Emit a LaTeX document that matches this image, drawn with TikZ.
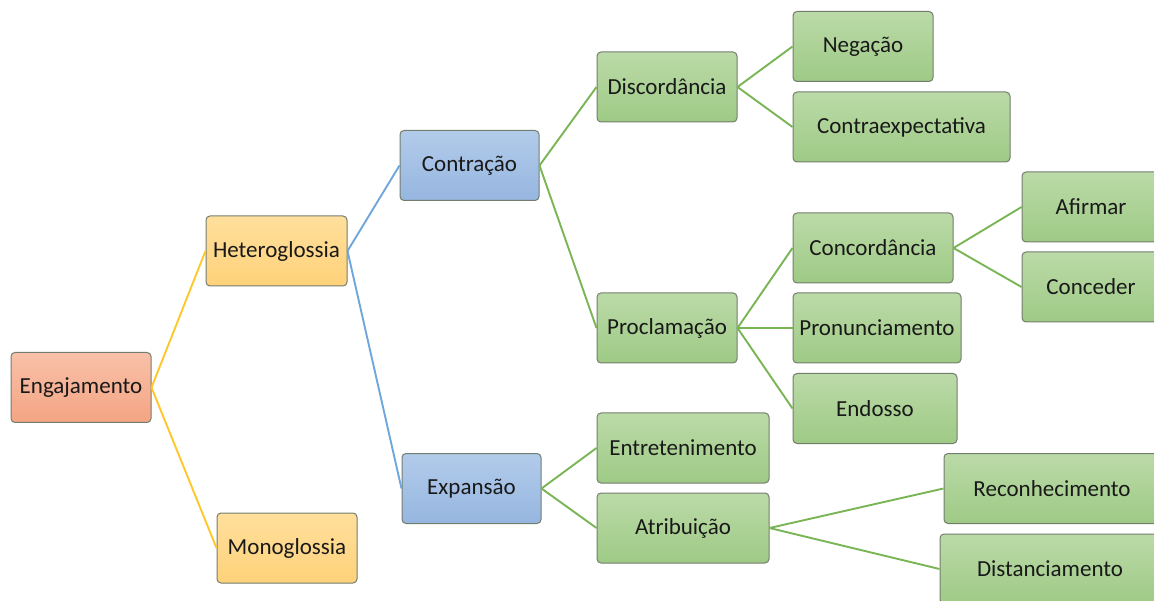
\documentclass[tikz,border=0pt]{standalone}
\usepackage{fontspec}
\setmainfont{Carlito}
\usetikzlibrary{positioning}

\definecolor{orangetop}{HTML}{F8C1A9}
\definecolor{orangebot}{HTML}{F4A483}
\definecolor{yellowtop}{HTML}{FFDF9C}
\definecolor{yellowbot}{HTML}{FFD27A}
\definecolor{bluetop}{HTML}{B2CBEA}
\definecolor{bluebot}{HTML}{96B6E0}
\definecolor{greentop}{HTML}{BBDAA8}
\definecolor{greenbot}{HTML}{9ECA85}
\definecolor{boxline}{HTML}{737D6E}
\definecolor{lineyellow}{HTML}{FFC72C}
\definecolor{lineblue}{HTML}{6FA6DB}
\definecolor{linegreen}{HTML}{7AB555}

\tikzset{
  box/.style={rectangle, rounded corners=4pt, draw=boxline, line width=1pt,
    minimum width=140pt, minimum height=70pt, inner sep=2pt,
    font=\fontsize{23}{27}\selectfont, text=black!90},
  rootbox/.style={box, top color=orangetop, bottom color=orangebot},
  glossbox/.style={box, top color=yellowtop, bottom color=yellowbot},
  movebox/.style={box, top color=bluetop, bottom color=bluebot},
  leafbox/.style={box, top color=greentop, bottom color=greenbot},
  link/.style={line width=1.9pt}
}

\begin{document}
\begin{tikzpicture}[x=1pt,y=-1pt,node distance=2cm,on grid]
        \useasboundingbox (0,0) rectangle (1154,601);
        \node[rootbox] (eng) at (81,387.5) {Engajamento};
        \node[glossbox, minimum width=141pt] (hetero) [above right=136.5pt and 195.5pt of eng] {Heteroglossia};
        \node[glossbox] (mono) [below right=160.5pt and 206pt of eng] {Monoglossia};
        \node[movebox, minimum width=139pt] (contr) [above right=85.5pt and 193pt of hetero] {Contração};
        \node[movebox, minimum width=139pt] (expan) [below right=237.5pt and 195pt of hetero] {Expansão};
        \node[leafbox] (disc) [above right=78.5pt and 197.5pt of contr] {Discordância};
        \node[leafbox] (procl) [below right=162.5pt and 197.5pt of contr] {Proclamação};
        \node[leafbox, minimum width=172pt] (entre) [above right=40.5pt and 211.5pt of expan] {Entretenimento};
        \node[leafbox, minimum width=172pt] (atrib) [below right=39.5pt and 211.5pt of expan] {Atribuição};
        \node[leafbox] (neg) [above right=40.5pt and 196pt of disc] {Negação};
        \node[leafbox, minimum width=217pt] (cexp) [below right=40pt and 234.5pt of disc] {Contraexpectativa};
        \node[leafbox, minimum width=160pt] (conc) [above right=80pt and 206pt of procl] {Concordância};
        \node[leafbox, minimum width=168pt] (pron) [right=210pt of procl] {Pronunciamento};
        \node[leafbox, minimum width=164pt] (endo) [below right=80.5pt and 208pt of procl] {Endosso};
        \node[leafbox, minimum width=138pt] (afir) [above right=41pt and 218pt of conc] {Afirmar};
        \node[leafbox, minimum width=138pt] (conced) [below right=39pt and 218pt of conc] {Conceder};
        \node[leafbox, minimum width=216pt] (recon) [above right=39.5pt and 369pt of atrib] {Reconhecimento};
        \node[leafbox, minimum width=220pt] (dist) [below right=41pt and 367pt of atrib] {Distanciamento};
        \path[link, draw=lineyellow]
        (eng.east) edge (hetero.west)
        (eng.east) edge (mono.west);
        \path[link, draw=lineblue]
        (hetero.east) edge (contr.west)
        (hetero.east) edge (expan.west);
        \path[link, draw=linegreen]
        (contr.east) edge (disc.west)
        (contr.east) edge (procl.west)
        (expan.east) edge (entre.west)
        (expan.east) edge (atrib.west)
        (disc.east) edge (neg.west)
        (disc.east) edge (cexp.west)
        (procl.east) edge (conc.west)
        (procl.east) edge (pron.west)
        (procl.east) edge (endo.west)
        (conc.east) edge (afir.west)
        (conc.east) edge (conced.west)
        (atrib.east) edge (recon.west)
        (atrib.east) edge (dist.west);
      \end{tikzpicture}
\end{document}
